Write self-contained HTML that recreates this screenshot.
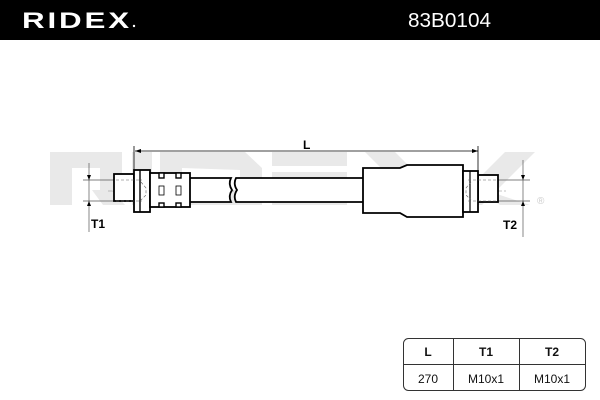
<!DOCTYPE html>
<html><head><meta charset="utf-8"><style>
html,body{margin:0;padding:0;background:#fff;}
body{width:600px;height:400px;overflow:hidden;position:relative;font-family:"Liberation Sans",sans-serif;}
.hdr{position:absolute;left:0;top:0;width:600px;height:40px;background:#000;}
</style></head><body>
<div class="hdr"></div>
<svg width="600" height="400" style="position:absolute;left:0;top:0">
<!-- header logo -->
<g fill="#fff">
<text x="22" y="28" font-family="Liberation Sans,sans-serif" font-size="22" font-weight="bold" letter-spacing="2" textLength="110" lengthAdjust="spacingAndGlyphs">RIDEX</text>
<circle cx="134" cy="26" r="1.2"/>
<text x="408" y="27" font-family="Liberation Sans,sans-serif" font-size="20" textLength="83" lengthAdjust="spacingAndGlyphs">83B0104</text>
</g>
<!-- watermark -->
<g fill="#e9e9e9">
<path d="M50 152 H122 V190 H112 L125 205 H103 L92 190 H100 V168 H72 V205 H50 Z"/>
<rect x="132" y="152" width="20" height="53"/>
<path d="M160 152 H245 L262 168 V205 H160 Z M182 168 V190 H240 V170 Z" fill-rule="evenodd"/>
<rect x="272" y="152" width="75" height="14"/>
<rect x="272" y="172" width="75" height="14"/>
<rect x="272" y="191" width="75" height="14"/>
<path d="M365 152 H395 L448 205 H418 Z"/>
<path d="M505 152 H535 L482 205 H452 Z"/>
<path d="M470 185 L500 205 H530 Z"/>
</g>
<g stroke="#000" fill="none" stroke-width="0.8">
<!-- L dimension -->
<line x1="135" y1="151" x2="478" y2="151"/>
<line x1="134" y1="146" x2="134" y2="176"/>
<line x1="478" y1="146" x2="478" y2="172"/>
</g>
<path d="M135 151 l6 -2 v4 z M478 151 l-6 -2 v4 z" fill="#000"/>
<text x="303" y="149" font-size="12" font-weight="bold" fill="#000">L</text>
<!-- centerline -->
<line x1="108" y1="191" x2="506" y2="191" stroke="#888" stroke-width="0.6" stroke-dasharray="10 2 2 2"/>
<!-- T1 dim -->
<g stroke="#555" stroke-width="0.7">
<line x1="89" y1="163" x2="89" y2="232"/>
<line x1="83" y1="180" x2="114" y2="180"/>
<line x1="83" y1="201" x2="114" y2="201"/>
<line x1="523" y1="160" x2="523" y2="237"/>
<line x1="498" y1="180" x2="530" y2="180"/>
<line x1="498" y1="201" x2="530" y2="201"/>
</g>
<path d="M89 180 l-2 -5 h4 z M89 201 l-2 5 h4 z M523 180 l-2 -5 h4 z M523 201 l-2 5 h4 z" fill="#000"/>
<text x="91" y="228" font-size="12" font-weight="bold">T1</text>
<text x="503" y="229" font-size="12" font-weight="bold">T2</text>
<text x="537" y="204" font-size="10" fill="#ccc">®</text>
<!-- left fitting -->
<g stroke="#000" stroke-width="1.8" fill="#fff">
<path d="M190 178 H231 Q228 184 232 190 Q228 196 231 202 H190"/>
<path d="M363 178 H236 Q233 184 237 190 Q233 196 236 202 H363"/>
<rect x="114" y="174" width="20" height="27"/>
<rect x="134" y="170" width="16" height="42"/>
<rect x="150" y="173" width="40" height="34"/>
</g>
<g stroke="#000" stroke-width="1.4" fill="#fff">
<line x1="140" y1="170" x2="140" y2="212"/>
<rect x="159" y="173" width="5" height="5"/><rect x="159" y="203" width="5" height="4"/>
<rect x="176" y="173" width="5" height="5"/><rect x="176" y="203" width="5" height="4"/>
<rect x="159" y="186" width="5" height="9" stroke-width="0.8"/>
<rect x="176" y="186" width="5" height="9" stroke-width="0.8"/>
</g>
<g stroke="#666" stroke-width="0.6" stroke-dasharray="3 2" fill="none">
<line x1="116" y1="180" x2="142" y2="180"/><line x1="116" y1="201" x2="142" y2="201"/>
<path d="M141 182 L146 188 V195 L141 200"/>
</g>
<!-- right fitting -->
<g stroke="#000" stroke-width="1.8" fill="#fff">
<path d="M363 168 H400 L407 165 H463 V217 H407 L400 213 H363 Z"/>
<rect x="478" y="175" width="20" height="27"/>
<rect x="463" y="171" width="15" height="41"/>
</g>
<line x1="470" y1="171" x2="470" y2="212" stroke="#000" stroke-width="1.2"/>
<g stroke="#666" stroke-width="0.6" stroke-dasharray="3 2" fill="none">
<line x1="468" y1="180" x2="496" y2="180"/><line x1="468" y1="201" x2="496" y2="201"/>
<path d="M471 182 L466 188 V195 L471 200"/>
</g>
<!-- table -->
<rect x="403.5" y="338.5" width="182" height="52" rx="5" fill="#fff" stroke="#333" stroke-width="1"/>
<g stroke="#333" stroke-width="1">
<line x1="403.5" y1="364.5" x2="585.5" y2="364.5"/>
<line x1="453.5" y1="338.5" x2="453.5" y2="390.5"/>
<line x1="519.5" y1="338.5" x2="519.5" y2="390.5"/>
</g>
<g font-size="12" text-anchor="middle" fill="#111">
<text x="428" y="356" font-weight="bold">L</text>
<text x="486" y="356" font-weight="bold">T1</text>
<text x="552" y="356" font-weight="bold">T2</text>
<text x="428" y="383">270</text>
<text x="486" y="383">M10x1</text>
<text x="552" y="383">M10x1</text>
</g>
</svg>
</body></html>
